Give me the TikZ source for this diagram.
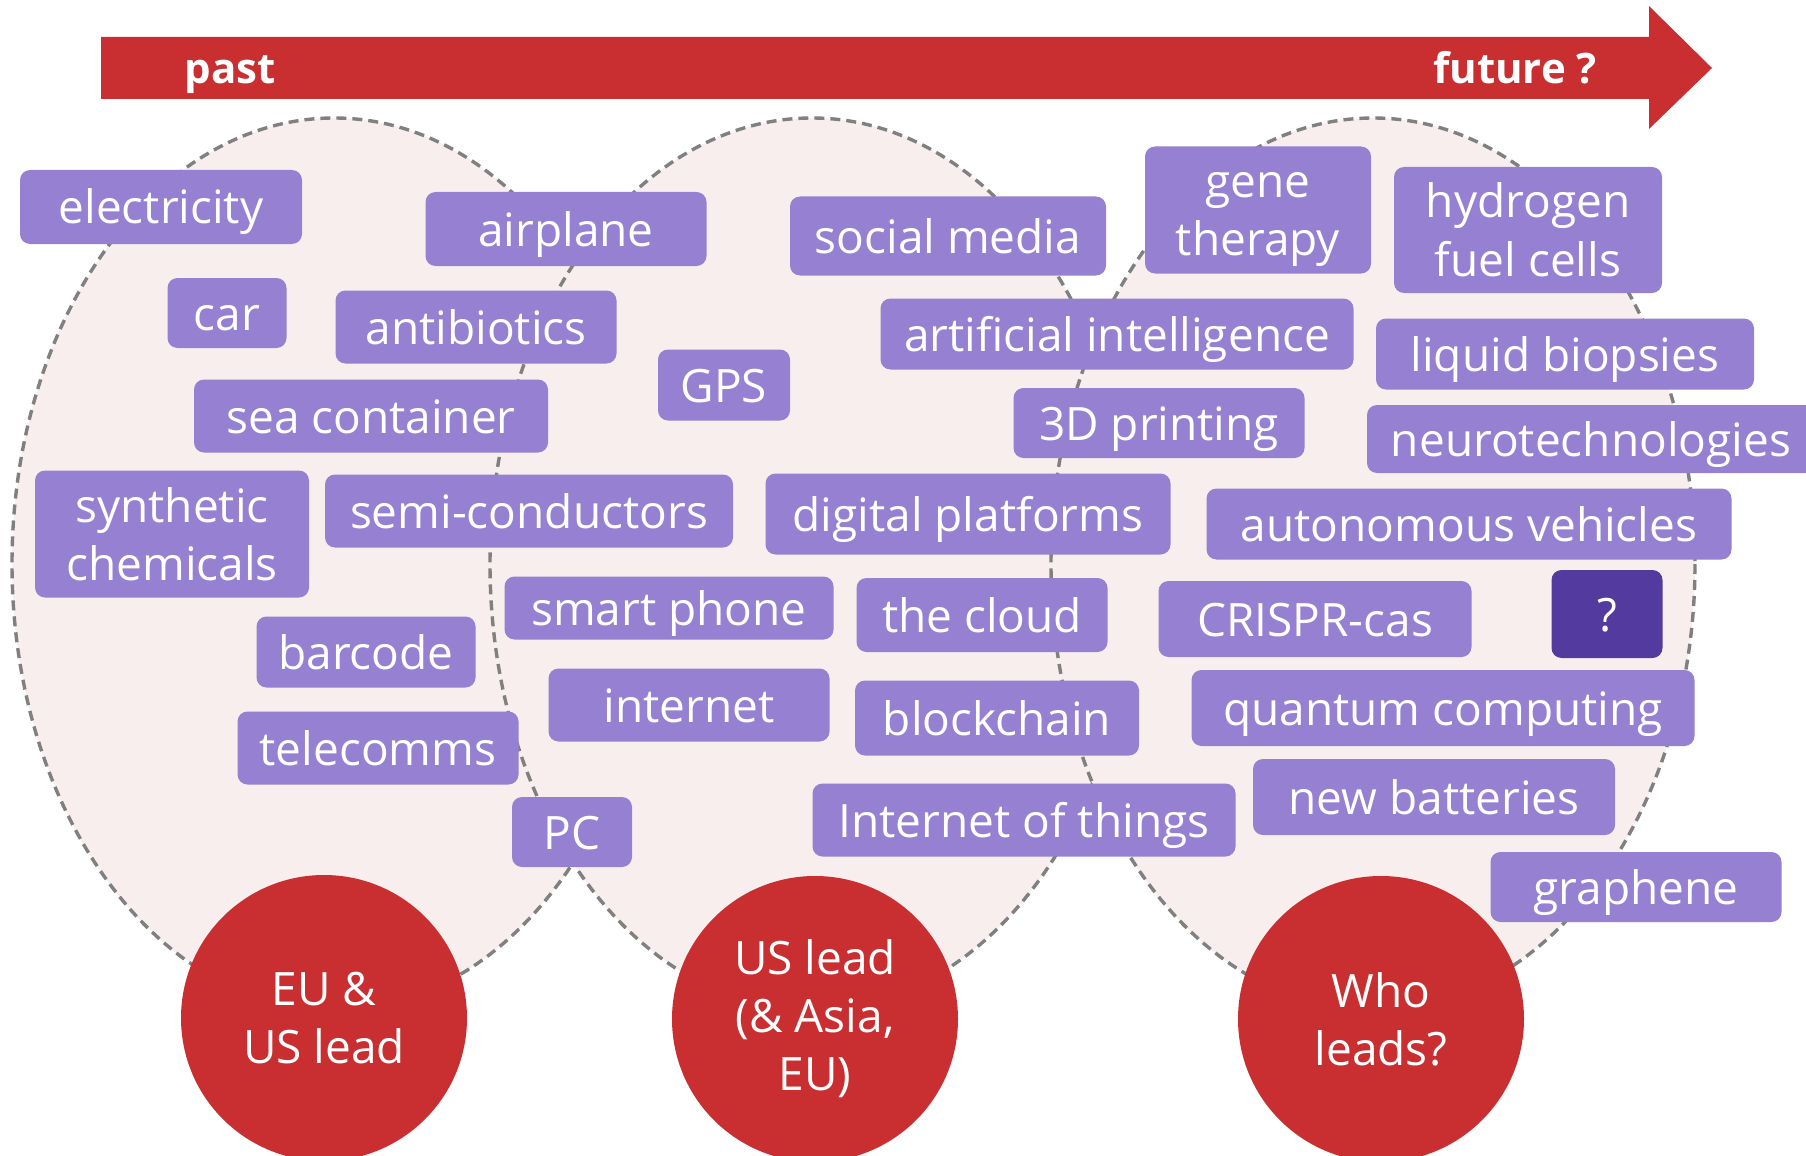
\documentclass[tikz,border=0pt]{standalone}
\usepackage{fontspec}
\setmainfont{Open Sans}
\definecolor{leadred}{RGB}{201,47,48}
\definecolor{techpurple}{RGB}{149,128,209}
\definecolor{techdark}{RGB}{82,58,158}
\definecolor{eraback}{RGB}{249,238,238}
\definecolor{eraline}{RGB}{128,128,128}
\tikzset{
    techbox/.style={fill=techpurple,text=white,rounded corners=5pt,align=center,inner sep=0pt,
        text height=20pt,text depth=3pt,font=\fontsize{23}{29}\selectfont},
    twoline/.style={text height=49pt},
    leadcircle/.style={circle,fill=leadred,text=white,align=center,minimum size=143pt,inner sep=0pt,
        font=\fontsize{23}{29}\selectfont},
    timelabel/.style={text=white,anchor=base,font=\fontsize{21}{25}\selectfont\bfseries},
    eraoutline/.style={fill=eraback,draw=eraline,line width=1.7pt,dash pattern=on 5pt off 3pt}
}
\begin{document}
\begin{tikzpicture}[x=0.5pt,y=-0.5pt]
    \useasboundingbox (0,0) rectangle (1806,1156);
    % Eras
        \foreach \cx in {334,812,1373}{
            \filldraw[eraoutline] (\cx,564) ellipse (322 and 446);
        }
    % Time arrow
        \fill[leadred] (101,37) -- (1649,37) -- (1649,6) -- (1712,68) -- (1649,129) -- (1649,99) -- (101,99) -- cycle;
        \node[timelabel] (past) at (230,84) {past};
        \node[timelabel] (future) at (1515,84) {future ?};
    % Technologies
        \foreach \n/\x/\y/\w/\h/\t in {
            elec/161/207/282/74/electricity,
            plane/566/229/281/74/airplane,
            social/948/236/316/79/social media,
            car/227/313/119/70/car,
            antib/476/327/281/73/antibiotics,
            ai/1117/334/473/71/artificial intelligence,
            biops/1565/354/378/71/liquid biopsies,
            gps/724/385/132/71/GPS,
            seacont/371/416/354/73/sea container,
            printing/1159/423/291/70/3D printing,
            neuro/1591/439/448/68/neurotechnologies,
            semi/529/511/408/73/semi-conductors,
            digit/968/514/405/81/digital platforms,
            auto/1469/524/525/71/autonomous vehicles,
            phone/669/608/329/63/smart phone,
            cloud/982/615/251/74/the cloud,
            crispr/1315/619/313/76/CRISPR-cas,
            barcode/366/652/219/71/barcode,
            inet/689/705/281/73/internet,
            block/997/718/284/75/blockchain,
            quantum/1443/708/503/76/quantum computing,
            telecom/378/748/281/73/telecomms,
            batt/1434/797/362/76/new batteries,
            pc/572/832/120/70/PC,
            iot/1024/820/423/73/Internet of things,
            graph/1636/887/291/70/graphene}{
            \node[techbox,minimum width=\w*0.5pt,minimum height=\h*0.5pt] (\n) at (\x,\y) {\t};
        }
        % Two lines
        \node[techbox,twoline,minimum width=113pt,minimum height=63.5pt] (gene) at (1258,210) {gene\\therapy};
        \node[techbox,twoline,minimum width=134pt,minimum height=63pt] (hydro) at (1528,230) {hydrogen\\fuel cells};
        \node[techbox,twoline,minimum width=137pt,minimum height=63.5pt] (synth) at (172,534) {synthetic\\chemicals};
        % Next one
        \node[techbox,fill=techdark,minimum width=55.5pt,minimum height=44pt] (unknown) at (1607,614) {?};
    % Leaders
        \node[leadcircle] (eu) at (324,1018) {EU \&\\US lead};
        \node[leadcircle] (us) at (815,1019) {US lead\\(\& Asia,\\EU)};
        \node[leadcircle] (who) at (1381,1019) {Who\\leads?};
\end{tikzpicture}
\end{document}
